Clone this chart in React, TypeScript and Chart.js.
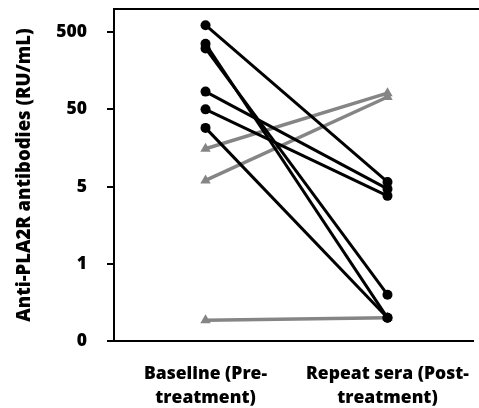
import { useEffect, useRef } from "react";
import { Chart, registerables } from "chart.js";
Chart.register(...registerables);

// Axis positions: 0 -> "0", 1 -> "1", 2 -> "5", 3 -> "50", 4 -> "500" (equally spaced labels)
const yTickLabels = ["0", "1", "5", "50", "500"];
const groupLabels = [["Baseline (Pre-", "treatment)"], ["Repeat sera (Post-", "treatment)"]];

// Black (circle) patients: baseline -> repeat, in axis-position units
const blackBaseline = [4.09, 3.85, 3.79, 3.23, 3.0, 2.76];
const blackRepeat = [2.06, 0.3, 0.6, 1.97, 1.88, 0.3];
// Grey (triangle) patients
const greyBaseline = [2.49, 2.08, 0.27];
const greyRepeat = [3.21, 3.16, 0.3];

const BLACK = "#000000";
const GREY = "#858585";
const FONT = "'Open Sans', sans-serif";

export default function App() {
  const ref = useRef<HTMLCanvasElement>(null);
  useEffect(() => {
    const datasets: any[] = [];
    blackBaseline.forEach((b, i) => {
      datasets.push({
        data: [{ x: 0, y: b }, { x: 1, y: blackRepeat[i] }],
        borderColor: BLACK,
        backgroundColor: BLACK,
        borderWidth: 3,
        pointStyle: "circle",
        pointRadius: 5,
        pointBorderWidth: 0,
        showLine: true,
      });
    });
    greyBaseline.forEach((b, i) => {
      datasets.push({
        data: [{ x: 0, y: b }, { x: 1, y: greyRepeat[i] }],
        borderColor: GREY,
        backgroundColor: GREY,
        borderWidth: 3.5,
        pointStyle: "triangle",
        pointRadius: 6,
        pointBorderWidth: 0,
        showLine: true,
      });
    });

    const topBorder = {
      id: "topBorder",
      afterDraw(c: any) {
        const { ctx, chartArea } = c;
        ctx.save();
        ctx.strokeStyle = "#000";
        ctx.lineWidth = 2;
        ctx.beginPath();
        ctx.moveTo(chartArea.left - 1, chartArea.top);
        ctx.lineTo(c.width, chartArea.top);
        ctx.stroke();
        ctx.restore();
      },
    };

    const zeroPad = (s: any) => {
      s.paddingTop = 0;
      s.paddingBottom = 0;
      s.paddingLeft = 0;
      s.paddingRight = 0;
    };

    const chart = new Chart(ref.current!, {
      type: "scatter",
      data: { datasets },
      options: {
        animation: false,
        responsive: true,
        maintainAspectRatio: false,
        clip: false,
        layout: { padding: { top: 9, left: 0, right: 0, bottom: 0 } },
        plugins: { legend: { display: false }, tooltip: { enabled: false } },
        elements: { line: { tension: 0 } },
        scales: {
          x: {
            type: "linear",
            min: -0.503,
            max: 1.47,
            afterBuildTicks: (s: any) => {
              s.ticks = [{ value: 0 }, { value: 1 }];
            },
            afterFit: (s: any) => {
              s.height = 67;
              zeroPad(s);
            },
            grid: { display: true, drawOnChartArea: false, drawTicks: false },
            border: { display: true, color: "#000", width: 2 },
            ticks: {
              autoSkip: false,
              maxRotation: 0,
              padding: 21,
              color: "#000",
              font: { family: FONT, size: 17.5, weight: "800", lineHeight: 1.38 },
              callback: (v: any) => groupLabels[v as number] ?? "",
            },
          },
          y: {
            type: "linear",
            min: 0,
            max: 4.3,
            afterBuildTicks: (s: any) => {
              s.ticks = yTickLabels.map((_, i) => ({ value: i }));
            },
            afterFit: (s: any) => {
              s.width = 114;
              zeroPad(s);
            },
            grid: { display: true, drawOnChartArea: false, drawTicks: true, tickLength: 7, color: "#000", lineWidth: 2 },
            border: { display: true, color: "#000", width: 2 },
            ticks: {
              padding: 20,
              color: "#000",
              font: { family: FONT, size: 17.5, weight: "800" },
              callback: (v: any) => yTickLabels[v as number] ?? "",
            },
            title: {
              display: true,
              text: "Anti-PLA2R antibodies (RU/mL)",
              color: "#000",
              padding: { top: 14, bottom: 0 },
              font: { family: FONT, size: 18.5, weight: "800" },
            },
          },
        },
      },
      plugins: [topBorder],
    });
    return () => chart.destroy();
  }, []);
  return (
    <div style={{ position: "fixed", left: 0, top: 0, width: 479, height: 408, background: "#fff" }}>
      <canvas ref={ref} />
    </div>
  );
}
